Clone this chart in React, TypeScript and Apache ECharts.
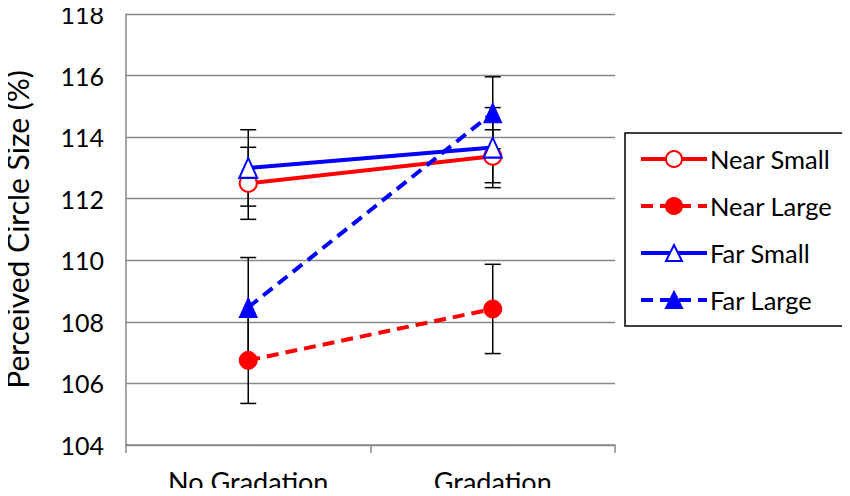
import React, { useEffect, useRef } from "react";
import * as echarts from "echarts";

const categories = ["No Gradation", "Gradation"];
const yTicks = [104, 106, 108, 110, 112, 114, 116, 118];

const nearSmall = [112.5, 113.38];
const nearLarge = [106.75, 108.42];
const farSmall = [113.0, 113.66];
const farLarge = [108.47, 114.79];

const nearSmallErr = [1.17, 0.86];
const nearLargeErr = [1.4, 1.45];
const farSmallErr = [1.24, 1.3];
const farLargeErr = [1.62, 1.17];

const FONT = "Lato, 'Open Sans', sans-serif";

export default function App() {
  const ref = useRef<HTMLDivElement>(null);
  useEffect(() => {
    if (!ref.current) return;
    const chart = echarts.init(ref.current, null, { renderer: "svg" });

    const errData: number[][] = [];
    const groups = [
      [nearSmall, nearSmallErr],
      [nearLarge, nearLargeErr],
      [farSmall, farSmallErr],
      [farLarge, farLargeErr],
    ];
    groups.forEach(([vals, errs]) => {
      vals.forEach((v, i) => {
        errData.push([i, v - errs[i], v + errs[i]]);
      });
    });

    const lineSeries = (
      name: string,
      data: number[],
      color: string,
      dashed: boolean,
      symbol: string,
      hollow: boolean,
      size: number | number[]
    ) => ({
      name,
      type: "line",
      data,
      z: 3,
      symbol,
      symbolSize: size,
      showAllSymbol: true,
      lineStyle: { color, width: 4, type: dashed ? [12, 7] : "solid" },
      itemStyle: hollow
        ? { color: "#ffffff", borderColor: color, borderWidth: 2 }
        : { color, borderColor: color, borderWidth: 1 },
      emphasis: { disabled: true },
    });

    chart.setOption({
      animation: false,
      grid: {
        left: 126,
        right: 235,
        top: 14,
        bottom: 51,
        containLabel: false,
        outerBoundsMode: "none",
      },
      xAxis: {
        type: "category",
        data: categories,
        boundaryGap: true,
        axisLine: { lineStyle: { color: "#888888", width: 1.5 } },
        axisTick: { show: true, length: 8, lineStyle: { color: "#888888", width: 1.5 } },
        axisLabel: { color: "#000", fontSize: 27, lineHeight: 20, fontFamily: FONT, margin: 26 },
      },
      yAxis: {
        type: "value",
        min: 104,
        max: 118,
        interval: 2,
        name: "Perceived Circle Size (%)",
        nameLocation: "middle",
        nameGap: 94,
        nameTextStyle: { color: "#000", fontSize: 30, fontFamily: FONT },
        axisLine: { show: true, lineStyle: { color: "#888888", width: 1.5 } },
        axisTick: { show: false },
        splitLine: { lineStyle: { color: "#888888", width: 1.3 } },
        axisLabel: {
          color: "#000",
          fontSize: 25,
          lineHeight: 20,
          fontFamily: FONT,
          margin: 22,
          formatter: (v: number) => (yTicks.includes(v) ? String(v) : ""),
        },
      },
      legend: {
        orient: "vertical",
        left: 625,
        top: 133,
        width: 220,
        borderColor: "#000",
        borderWidth: 1.5,
        padding: [13, 12, 13, 14],
        itemWidth: 66,
        itemHeight: 20,
        itemGap: 21,
        lineStyle: { width: 4 },
        textStyle: { color: "#000", fontSize: 25.5, fontFamily: FONT, padding: [0, 0, 0, -2] },
        data: ["Near Small", "Near Large", "Far Small", "Far Large"],
      },
      series: [
        {
          type: "custom",
          z: 1,
          silent: true,
          data: errData,
          renderItem: (params: any, api: any) => {
            const x = api.coord([api.value(0), api.value(1)])[0];
            const yl = api.coord([api.value(0), api.value(1)])[1];
            const yh = api.coord([api.value(0), api.value(2)])[1];
            const w = 8;
            const style = { stroke: "#000", lineWidth: 1.5 };
            return {
              type: "group",
              children: [
                { type: "line", shape: { x1: x, y1: yl, x2: x, y2: yh }, style },
                { type: "line", shape: { x1: x - w, y1: yl, x2: x + w, y2: yl }, style },
                { type: "line", shape: { x1: x - w, y1: yh, x2: x + w, y2: yh }, style },
              ],
            };
          },
        },
        lineSeries("Near Small", nearSmall, "#ff0000", false, "circle", true, 17),
        lineSeries("Near Large", nearLarge, "#ff0000", true, "circle", false, 18),
        lineSeries("Far Small", farSmall, "#0000ff", false, "triangle", true, [18, 20]),
        lineSeries("Far Large", farLarge, "#0000ff", true, "triangle", false, [18, 20]),
      ],
    });
    return () => chart.dispose();
  }, []);
  return <div ref={ref} style={{ width: 850, height: 496, margin: -8 }} />;
}
